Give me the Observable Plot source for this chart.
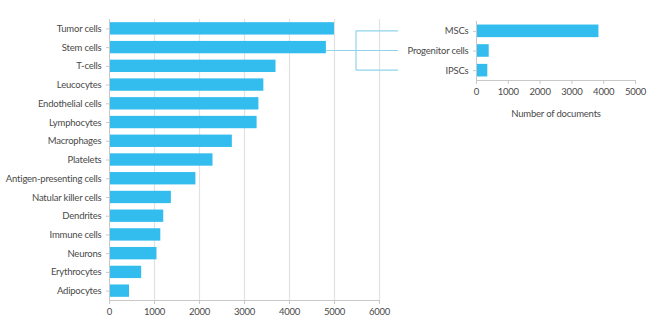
<!DOCTYPE html>
<html>
<head>
<meta charset="utf-8">
<script src="https://cdn.jsdelivr.net/npm/d3@7"></script>
<script src="https://cdn.jsdelivr.net/npm/@observablehq/plot@0.6"></script>
<style>
  html, body { margin: 0; padding: 0; background: #fff; }
  #wrap { position: relative; width: 650px; height: 325px; overflow: hidden; font-family: Lato, "Open Sans", sans-serif; }
  #wrap > svg, #wrap > div { position: absolute; }
  #wrap text { fill: #4a4a4a; letter-spacing: -0.2px; }
</style>
</head>
<body>
<div id="wrap"></div>
<script>
// Main chart data
const cells = ["Tumor cells","Stem cells","T-cells","Leucocytes","Endothelial cells","Lymphocytes","Macrophages","Platelets","Antigen-presenting cells","Natular killer cells","Dendrites","Immune cells","Neurons","Erythrocytes","Adipocytes"];
const cellDocs = [5000,4820,3700,3430,3320,3280,2730,2300,1920,1375,1205,1140,1055,715,445];
const mainTicks = [0,1000,2000,3000,4000,5000,6000];

// Inset (stem cell breakdown) data
const stemTypes = ["MSCs","Progenitor cells","IPSCs"];
const stemDocs = [3850,400,355];
const insetTicks = [0,1000,2000,3000,4000,5000];
const xLabel = "Number of documents";
const expanded = "Stem cells";

const barColor = "#33bdee";
const gridColor = "#e2e2e2";
const axisColor = "#c8c8c8";
const bracketColor = "#8fd4e8";

const mainData = cells.map((c, i) => ({cell: c, docs: cellDocs[i]}));
const insetData = stemTypes.map((c, i) => ({cell: c, docs: stemDocs[i]}));

const wrap = document.getElementById("wrap");

const main = Plot.plot({
  width: 400, height: 325,
  marginLeft: 109, marginRight: 21, marginTop: 19, marginBottom: 25,
  style: {fontFamily: "Lato, 'Open Sans', sans-serif", fontSize: "9.5px", color: "#4a4a4a", background: "transparent"},
  x: {domain: [0, 6000], ticks: mainTicks},
  y: {domain: cells, padding: 0.34, paddingOuter: 0.17, round: false},
  marks: [
    Plot.gridX(mainTicks.slice(1), {stroke: gridColor, strokeOpacity: 1, strokeWidth: 1.2}),
    Plot.barX(mainData, {y: "cell", x: "docs", fill: barColor}),
    Plot.ruleX([0], {stroke: axisColor}),
    Plot.axisX({ticks: mainTicks, tickSize: 4, tickPadding: 4, stroke: axisColor, label: null, tickFormat: d => String(d)}),
    Plot.axisY({tickSize: 3, tickPadding: 5, stroke: axisColor, label: null}),
    Plot.frame({anchor: "bottom", stroke: axisColor})
  ]
});
main.style.left = "0px"; main.style.top = "0px";
wrap.appendChild(main);

const inset = Plot.plot({
  width: 310, height: 130,
  marginLeft: 136, marginRight: 15, marginTop: 21, marginBottom: 50,
  style: {fontFamily: "Lato, 'Open Sans', sans-serif", fontSize: "9.5px", color: "#4a4a4a", background: "transparent"},
  x: {domain: [0, 5000], ticks: insetTicks},
  y: {domain: stemTypes, padding: 0.36, paddingOuter: 0.18, round: false},
  marks: [
    Plot.barX(insetData, {y: "cell", x: "docs", fill: barColor}),
    Plot.ruleX([0], {stroke: axisColor}),
    Plot.frame({anchor: "bottom", stroke: axisColor}),
    Plot.axisX({ticks: insetTicks, tickSize: 4, tickPadding: 4, stroke: axisColor, tickFormat: d => String(d),
      label: xLabel, labelAnchor: "center", labelArrow: "none", labelOffset: 36}),
    Plot.axisY({tickSize: 3, tickPadding: 5, stroke: axisColor, label: null})
  ]
});
inset.style.left = "340px"; inset.style.top = "0px";
wrap.appendChild(inset);

// Connector bracket linking "Stem cells" bar to the inset categories
const mx = main.scale("x"), iy = inset.scale("y"), ix = inset.scale("x");
const insetLeft = 340;
const barEnd = mx.apply(cellDocs[cells.indexOf(expanded)]);
const half = iy.bandwidth / 2;
const ys = stemTypes.map(s => iy.apply(s) + half);
const labelGap = 78; // space left for inset labels
const lineEnd = insetLeft + ix.apply(0) - labelGap;
const bracketX = lineEnd - 42;

const ov = d3.create("svg").attr("width", 650).attr("height", 325)
  .style("left", "0px").style("top", "0px").style("pointer-events", "none");
const g = ov.append("g").attr("stroke", bracketColor).attr("stroke-width", 1.2).attr("fill", "none");
g.append("line").attr("x1", barEnd).attr("x2", lineEnd).attr("y1", ys[1]).attr("y2", ys[1]);
g.append("line").attr("x1", bracketX).attr("x2", bracketX).attr("y1", ys[0]).attr("y2", ys[2]);
ys.forEach(y => g.append("line").attr("x1", bracketX).attr("x2", lineEnd).attr("y1", y).attr("y2", y));
wrap.appendChild(ov.node());
</script>
</body>
</html>
